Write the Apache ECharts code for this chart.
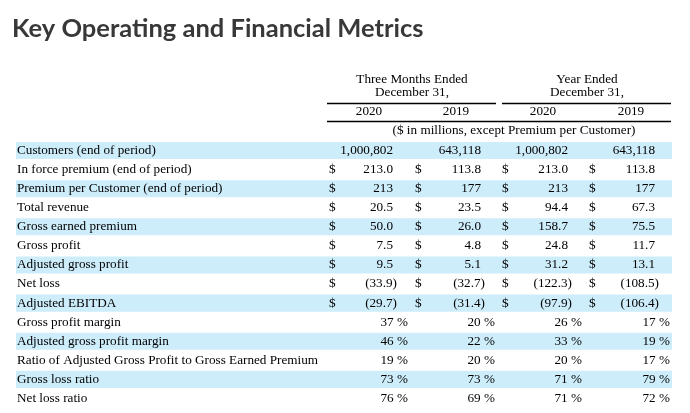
<!DOCTYPE html>
<html>
<head>
<meta charset="utf-8">
<script src="https://cdn.jsdelivr.net/npm/echarts@6/dist/echarts.min.js"></script>
<style>html,body{margin:0;padding:0;background:#fff}#c{width:690px;height:413px}</style>
</head>
<body>
<div id="c"></div>
<script>
// ---- data ----
const rowLabels = [
  'Customers (end of period)',
  'In force premium (end of period)',
  'Premium per Customer (end of period)',
  'Total revenue',
  'Gross earned premium',
  'Gross profit',
  'Adjusted gross profit',
  'Net loss',
  'Adjusted EBITDA',
  'Gross profit margin',
  'Adjusted gross profit margin',
  'Ratio of Adjusted Gross Profit to Gross Earned Premium',
  'Gross loss ratio',
  'Net loss ratio'
];
const rowFormats = ['count','usd1','usd0','usd1','usd1','usd1','usd1','usd1','usd1','pct','pct','pct','pct','pct'];
const q4_2020 = [1000802, 213.0, 213, 20.5, 50.0, 7.5, 9.5, -33.9, -29.7, 37, 46, 19, 73, 76];
const q4_2019 = [643118, 113.8, 177, 23.5, 26.0, 4.8, 5.1, -32.7, -31.4, 20, 22, 20, 73, 69];
const fy_2020 = [1000802, 213.0, 213, 94.4, 158.7, 24.8, 31.2, -122.3, -97.9, 26, 33, 20, 71, 71];
const fy_2019 = [643118, 113.8, 177, 67.3, 75.5, 11.7, 13.1, -108.5, -106.4, 17, 19, 17, 79, 72];
const columns = [q4_2020, q4_2019, fy_2020, fy_2019];
const periodHeaders = [['Three Months Ended', 'December 31,'], ['Year Ended', 'December 31,']];
const yearLabels = ['2020', '2019', '2020', '2019'];
const unitNote = '($ in millions, except Premium per Customer)';
const titleText = 'Key Operating and Financial Metrics';

// ---- layout / style ----
const FONT = '13.2px "Liberation Serif", "Times New Roman", serif';
const BAND = '#cdedfb';
const dollarX = [329, 415, 502, 589];
const valueRight = [393, 481, 568, 655];
const pctRight = [408, 495, 582, 670];
const labelX = 17;
const bandL = 16, bandR = 672;

function fmt(v, kind) {
  if (kind === 'count') return v.toLocaleString('en-US');
  if (kind === 'pct') return v + ' %';
  const d = kind === 'usd1' ? 1 : 0;
  const s = Math.abs(v).toFixed(d);
  return v < 0 ? '(' + s + ')' : s;
}

const chart = echarts.init(document.getElementById('c'), null, {renderer: 'canvas'});

const graphic = [];
const mkText = (text, x, y, align) => ({
  type: 'text', silent: true,
  style: {text, x, y, textAlign: align, textVerticalAlign: 'middle', font: FONT, fill: '#000'}
});
graphic.push(mkText(periodHeaders[0][0], 412, 80, 'center'));
graphic.push(mkText(periodHeaders[0][1], 412, 93, 'center'));
graphic.push(mkText(periodHeaders[1][0], 587, 80, 'center'));
graphic.push(mkText(periodHeaders[1][1], 587, 93, 'center'));
const yearX = [369, 456, 543, 631];
yearLabels.forEach((y, i) => graphic.push(mkText(y, yearX[i], 112, 'center')));
graphic.push(mkText(unitNote, 514, 131, 'center'));
const mkLine = (x1, x2, y) => ({
  type: 'line', silent: true,
  shape: {x1, y1: y, x2, y2: y},
  style: {stroke: '#000', lineWidth: 1.5}
});
graphic.push(mkLine(327, 496, 103.5));
graphic.push(mkLine(502, 671, 103.5));
graphic.push(mkLine(327, 671, 121.5));

const option = {
  animation: false,
  backgroundColor: '#fff',
  title: {
    text: titleText, left: 12, top: 16, padding: 0,
    textStyle: {fontFamily: 'Lato', fontWeight: 'bold', fontSize: 25.5, color: '#383838'}
  },
  grid: {left: 0, right: 0, top: 141, bottom: 5},
  xAxis: {type: 'value', min: 0, max: 690, show: false},
  yAxis: {type: 'category', data: rowLabels, inverse: true, show: false},
  graphic: graphic,
  series: [{
    type: 'custom',
    data: rowLabels.map((l, i) => [0, i]),
    encode: {x: 0, y: 1},
    renderItem: function (params, api) {
      const i = params.dataIndex;
      const yc = api.coord([0, i])[1];
      const h = api.size([0, 1])[1];
      const X = (v) => api.coord([v, i])[0];
      const children = [];
      if (i % 2 === 0) {
        children.push({
          type: 'rect',
          shape: {x: X(bandL), y: yc - h / 2 + 1, width: X(bandR) - X(bandL), height: h - 2},
          style: {fill: BAND}
        });
      }
      const t = (text, x, align) => ({
        type: 'text',
        style: {text, x, y: yc, textAlign: align, textVerticalAlign: 'middle', font: FONT, fill: '#000'}
      });
      children.push(t(rowLabels[i], X(labelX), 'left'));
      const kind = rowFormats[i];
      columns.forEach((col, c) => {
        const v = col[i];
        const s = fmt(v, kind);
        if (kind === 'pct') {
          children.push(t(s, X(pctRight[c]), 'right'));
        } else {
          if (kind !== 'count') children.push(t('$', X(dollarX[c]), 'left'));
          const r = v < 0 ? valueRight[c] + 4 : valueRight[c];
          children.push(t(s, X(r), 'right'));
        }
      });
      return {type: 'group', children};
    }
  }]
};
chart.setOption(option);
</script>
</body>
</html>
